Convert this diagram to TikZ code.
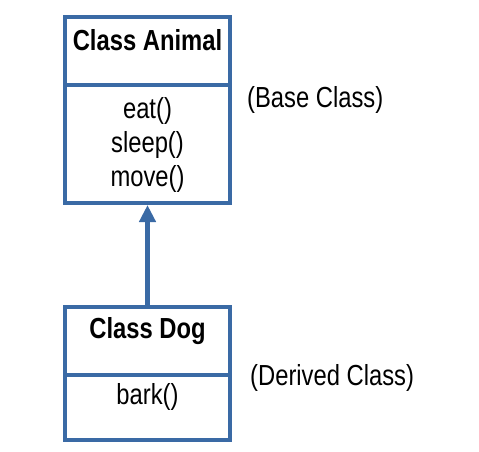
\documentclass[tikz,border=0pt]{standalone}
\usepackage{fontspec}
\setmainfont[FakeStretch=0.82]{Liberation Sans}
\usetikzlibrary{arrows.meta}
\definecolor{umlblue}{RGB}{58,106,165}
\tikzset{
  classbox/.style={draw=umlblue, line width=4pt, rectangle, minimum width=165pt, inner sep=0pt},
  txt/.style={font=\fontsize{29}{34}\selectfont, inner sep=0pt, anchor=base, align=center},
  inherit/.style={draw=umlblue, line width=5pt, -{Triangle[width=16pt,length=17pt]}}
}
\begin{document}
\begin{tikzpicture}[x=1pt,y=-1pt]
\useasboundingbox (0,0) rectangle (479,451);
\node[classbox, minimum height=68pt] (animalhead) at (147.5,51) {};
\node[classbox, minimum height=118pt] (animalbody) at (147.5,144) {};
\node[classbox, minimum height=68pt] (doghead) at (147.5,341) {};
\node[classbox, minimum height=65pt] (dogbody) at (147.5,407.5) {};
\node[txt, font=\fontsize{29}{34}\selectfont\bfseries] (animalname) at (147.5,50) {Class Animal};
\node[txt] (animalops) at (147.5,186) {eat()\\sleep()\\move()};
\node[txt, font=\fontsize{29}{34}\selectfont\bfseries] (dogname) at (147.5,338) {Class Dog};
\node[txt] (dogops) at (147.5,404) {bark()};
\node[txt, anchor=base west] (baselbl) at (247,107) {(Base Class)};
\node[txt, anchor=base west] (derivedlbl) at (250,385) {(Derived Class)};
\draw[inherit] (doghead.north) -- (animalbody.south);
\end{tikzpicture}
\end{document}
